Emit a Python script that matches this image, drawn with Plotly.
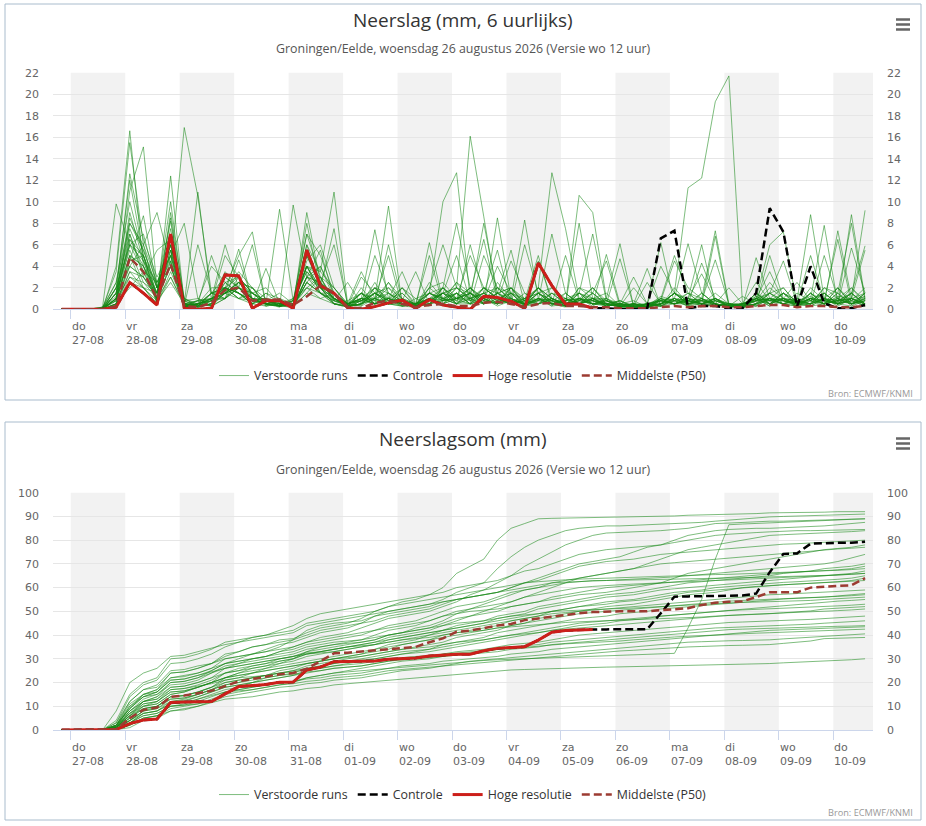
import pandas as pd
import plotly.graph_objects as go

# 6-uurlijkse tijdstappen van de 12 UTC run (lokale tijd), 60 stappen
tijden = pd.date_range('2026-08-26 20:00', periods=60, freq='6h')
dagen = pd.date_range('2026-08-27', periods=15, freq='D')
dag_labels = ['do<br>27-08', 'vr<br>28-08', 'za<br>29-08', 'zo<br>30-08', 'ma<br>31-08',
              'di<br>01-09', 'wo<br>02-09', 'do<br>03-09', 'vr<br>04-09', 'za<br>05-09',
              'zo<br>06-09', 'ma<br>07-09', 'di<br>08-09', 'wo<br>09-09', 'do<br>10-09']

# --- Neerslag per 6 uur (mm) ---
hoge_res_6u = [0, 0, 0, 0, 0.2, 2.5, 1.5, 0.4, 7.0, 0.1,
               0, 0.1, 3.2, 3.1, 0.1, 0.8, 0.8, 0.1, 5.5, 2.2,
               1.5, 0.15, 0, 0.25, 0.6, 0.85, 0.1, 0.9, 0.4, 0.2,
               0, 1.2, 1.1, 0.75, 0.1, 4.3, 2.2, 0.5, 0.5, 0.1]
controle_6u = [0, 0, 0, 0, 0.2, 2.5, 1.5, 0.4, 7.0, 0.1,
               0, 0.1, 3.2, 3.1, 0.1, 0.8, 0.8, 0.1, 5.5, 2.2,
               1.5, 0.15, 0, 0.25, 0.6, 0.85, 0.1, 0.9, 0.4, 0.2,
               0, 1.2, 1.1, 0.75, 0.1, 4.3, 2.2, 0.5, 0.5, 0.1,
               0.1, 0, 0, 0.1, 6.6, 7.3, 0.1, 0.3, 0.3, 0.1,
               0.1, 1.5, 9.4, 7.2, 0.25, 4.0, 0.55, 0.1, 0.1, 0.4]
p50_6u = [0, 0, 0, 0, 0.3, 4.8, 3.5, 1.0, 4.2, 0.3,
          0.2, 0.6, 1.8, 2.0, 0.8, 0.9, 0.9, 0.4, 1.2, 2.2,
          1.5, 0.2, 0.1, 0.6, 0.8, 0.5, 0.2, 0.4, 0.5, 0.3,
          0.3, 0.6, 0.7, 0.5, 0.2, 0.5, 0.6, 0.3, 0.3, 0.2,
          0.2, 0.1, 0.1, 0.1, 0.2, 0.3, 0.2, 0.3, 0.3, 0.2,
          0.2, 0.3, 0.4, 0.4, 0.2, 0.3, 0.3, 0.2, 0.2, 0.3]
runs_6u = [
    [0,0,0,0.2,9.8,6,7,2,4,0.5, 0.3,1,2,1.5,0.8,1,0.5,0.2,3,2, 1,0.3,0.5,1.5,2,1,0.2,1.5,10,12.7,
     1,2,1.5,0.8,0.5,2,1,0.5,1.5,0.8, 0.5,0.3,0.2,0.5,4,1.5,0.8,0.5,1,0.3, 0.2,1,1.5,0.8,0.5,1,0.5,1.2,1,0.5],
    [0,0,0,0,4,16.6,4,1.5,5,0.3, 0.5,1.5,3,2,1,0.5,0.3,0.5,4,3, 2,0.5,1,2,1,0.5,0.3,2,6,2,
     1.5,1,0.5,2,0.3,1,0.8,0.3,1,2, 0.8,0.5,0.3,0.2,1,5,1.5,0.5,0.8,0.3, 0.1,0.5,2,1,0.3,0.8,1.5,0.5,0.3,1.5],
    [0,0,0,0.1,3.5,15.5,6,2.5,6,0.8, 0.2,0.5,2.5,3,1.5,0.8,0.5,0.3,2.5,4, 1.5,0.2,2,0.5,1,0.8,0.5,1,2,8,
     2,0.5,2.5,1,0.5,0.8,2,1,0.5,1, 1.5,0.3,0.5,0.2,0.8,4.5,2,1,0.5,0.2, 0.3,1.5,0.5,1,0.8,1.2,0.5,2,0.8,0.3],
    [0,0,0,0,1.5,12.6,6.5,3,5.5,0.2, 0.5,1,1.5,2.5,2,1,0.3,0.8,5,2.5, 1,0.5,1.5,1,0.5,2,0.3,0.8,1.5,5,
     0.8,2,1,1.5,0.3,1,0.5,0.2,2,1.5, 0.5,0.2,0.1,0.3,0.5,1.5,1,0.8,0.5,0.3, 0.2,0.8,1,0.5,0.3,0.5,1,0.8,1.5,0.5],
    [0,0,0,0.1,2,12,5,1,12.4,0.5, 0.2,0.8,3.5,2,1.5,0.5,0.8,0.3,4,1.5, 0.8,0.3,0.5,2,1.5,0.5,0.2,1,0.8,2,
     16.1,8.6,1,0.5,1,1.5,0.5,0.8,1,0.5, 0.3,0.5,0.2,0.1,0.8,1,6.1,1.5,0.5,0.3, 0.5,0.3,1.5,2,0.5,0.8,0.3,1,0.5,1.2],
    [0,0,0,0,1,11,15.1,2,6,0.3, 0.5,2,2,1.5,0.5,1.5,0.5,1,3.5,2, 1.5,0.2,1,0.5,2.5,1,0.5,1.5,1,0.5,
     6,1.5,2,0.8,0.5,1,0.3,1.5,0.5,1, 0.8,0.2,0.5,0.3,1.2,0.8,1,6,0.5,0.2, 0.3,1,0.5,1.5,0.3,2,0.8,0.5,1,0.3],
    [0,0,0,0.2,2.5,10,5,1.5,7,1, 0.3,1.5,1.5,3.5,2,0.5,1,0.5,6,3.5, 2,0.5,0.8,1.5,1,0.3,0.2,2,2.5,1,
     5,2,1,0.5,0.8,2,1,0.5,0.8,2, 0.5,0.8,0.3,0.2,0.5,1.5,0.5,4.3,1,0.5, 0.2,1.2,0.8,0.5,1,0.5,2,1.5,0.3,0.8],
    [0,0,0,0,1,9,4.5,0.8,8.5,0.2, 0.3,0.8,2,1,1.5,2,0.5,0.3,2.5,1.5, 0.5,0.8,1.5,0.5,1,0.5,0.3,1,1.5,2,
     1,8,1.5,1,0.3,1.5,2,0.3,1,0.5, 1,0.3,0.2,0.5,0.8,0.5,1,3.3,0.8,0.5, 0.3,0.5,1,0.8,0.5,1.5,0.5,1,2,0.5],
    [0,0,0,0,0.5,8.5,5.5,2,4,0.5, 0.8,0.3,1,2.5,1,0.8,1.5,0.5,5,2, 1,0.3,0.5,2.5,0.5,1,0.5,0.3,2,1,
     1.5,6.5,0.8,2,0.5,0.8,1.5,1,0.5,1, 0.3,0.5,0.8,0.2,0.5,1.5,11.3,12.2,19.3,21.7, 0.5,1,0.8,0.5,0.3,1,1.5,0.5,0.8,2],
    [0,0,0,0,1.5,8,6,1,6.5,0.2, 0.5,1,2,1.5,0.8,0.5,0.2,1,2,3, 0.8,0.5,1,1,1.5,0.5,0.3,2.5,1,1.5,
     0.5,5,2,1.5,1,0.5,0.8,1.5,0.5,1, 0.5,0.3,0.5,0.2,1,0.5,1.5,1,7.3,0.5, 0.3,0.8,2.5,1,0.5,0.5,1,0.3,1,1.5],
    [0,0,0,0.1,0.8,7,3.5,2.5,5,1, 0.3,0.5,1.5,2,1,0.3,0.8,0.5,4,1.5, 0.5,0.2,0.8,1.5,0.5,2,1,0.5,0.8,2.5,
     1.5,0.5,8.5,1,0.5,1,0.5,0.8,1.5,0.5, 0.8,0.2,0.3,0.5,0.5,1,0.8,0.5,6.8,0.3, 0.2,1.5,0.5,1,0.8,0.3,0.5,2,0.5,0.8],
    [0,0,0,0,2,7,3,1,5.5,0.3, 0.5,1,1,2,6,0.5,0.3,0.2,3,2.5, 1,0.3,1.5,0.5,1,0.8,0.5,1.5,2,0.5,
     1,1.5,5.5,0.5,0.8,2,1,0.3,0.5,1.5, 0.3,0.5,0.2,0.1,0.3,2,0.5,0.8,4.6,0.5, 0.5,0.3,1,2,0.5,1,0.8,0.5,1.5,0.3],
    [0,0,0,0,1,6.5,4,1.5,7,0.5, 0.2,0.5,2.5,1.5,0.5,3.8,0.5,0.3,2,1, 1.5,0.5,0.3,2,0.8,0.5,0.2,0.8,1.5,1,
     2,0.8,4,1.5,0.3,0.5,1.5,0.5,1,0.8, 0.5,0.2,0.5,0.3,1,0.8,0.3,1.5,0.5,2, 0.5,1,0.3,1.5,0.8,0.5,2,1,0.5,1],
    [0,0,0,0.1,0.5,6,5,0.5,4.5,0.8, 1,0.3,1,3,1.5,0.5,9.3,0.8,5.5,2, 0.5,0.3,1.5,0.8,2,0.5,0.5,1,0.5,2,
     0.8,1,1.5,5.5,0.5,1.5,0.8,0.3,2,1, 0.3,0.5,0.2,0.5,0.8,0.5,1,0.5,1,0.3, 1.2,0.5,1,0.8,0.3,1.5,0.5,0.8,1,0.5],
    [0,0,0,0,1.5,5.5,2.5,1,3,0.3, 0.5,1.5,2,1,0.8,1,0.3,9.7,3,4, 1,0.2,0.5,1.5,0.8,0.3,0.5,2,1,0.5,
     1.5,0.5,0.8,4.5,1.5,0.5,1,0.5,0.8,1.5, 0.5,0.3,0.1,0.2,0.5,1.5,0.8,0.5,0.3,0.5, 0.3,4.8,1,0.5,1,0.8,0.5,1.5,0.5,1],
    [0,0,0,0,0.3,4.5,8.7,2,6,0.5, 0.2,0.5,3,2,1,0.5,0.5,0.3,9,2.5, 1.5,0.5,0.3,1,0.5,1.5,0.3,0.5,1.5,1,
     0.8,1.5,0.5,1,8.3,1,0.5,0.8,1,0.3, 1,0.2,0.5,0.2,0.5,0.8,1.5,0.5,0.8,0.3, 0.5,2.5,0.8,1,0.5,0.3,1,0.5,2,0.8],
    [0,0,0,0,2,4,6,9,4,0.3, 0.8,1,1.5,2.5,2,0.3,0.5,0.5,4.5,6, 2,0.3,1,0.5,1.5,0.8,0.2,1,0.5,1.5,
     0.5,2,1,0.5,6,1.5,0.8,0.5,0.8,2, 0.5,0.5,0.3,0.2,1,0.5,0.8,1,0.5,0.3, 0.5,1,6,7.2,0.5,1.5,0.8,0.5,1,0.5],
    [0,0,0,0,0.5,3.5,3,5.5,6.5,0.2, 0.5,0.8,2,1.5,0.5,1.5,1,0.2,3,5.5, 1,0.5,0.8,2,0.5,0.3,0.5,0.8,1.5,0.5,
     2,0.5,1.5,2,0.8,5,0.5,1,0.5,0.8, 0.3,0.8,0.2,0.5,0.3,1,0.5,0.8,0.3,0.5, 0.2,0.5,5,1,0.8,0.5,1,2,0.5,0.8],
    [0,0,0,0.1,1,3,2.5,1.5,10,0.5, 0.3,1.5,1,2,1,0.5,0.3,0.5,7,5, 1.5,0.2,0.5,1,2.5,0.5,0.5,1.5,0.8,1,
     1.5,0.5,2,0.8,0.5,4.5,1,0.3,1.5,0.5, 0.5,0.3,0.5,0.3,0.8,0.5,0.5,1.5,0.5,0.2, 0.5,1,3.5,0.8,0.3,1,0.5,0.8,1.5,0.5],
    [0,0,0,0,0.8,5,4,0.5,9,1, 0.5,0.3,2,3,1.5,0.8,0.5,0.3,4,3.5, 10.9,0.5,1,0.5,1,1.5,0.3,0.8,2,0.5,
     1,1.5,0.8,1,0.5,2,12.7,7.5,1,0.5, 0.8,0.3,0.2,0.5,0.5,1.5,0.5,1,0.3,0.5, 0.3,0.8,1.5,4.5,0.5,1,0.5,0.8,1,0.5],
    [0,0,0,0,1.2,4.5,5,2,8.2,0.3, 0.5,1,1.5,2,1,0.5,0.8,0.3,6,2, 7.5,0.3,0.5,1.5,0.8,0.5,0.5,1.5,1,2.5,
     0.8,0.5,1.5,2,1,0.8,7,1.5,0.5,1, 0.5,0.2,0.3,0.5,1,0.5,0.8,0.5,1.5,0.5, 0.2,1,0.8,1,2.5,0.8,1.5,0.5,0.8,1.2],
    [0,0,0,0,0.5,2,3.5,1,4,16.9, 10.5,1.5,2,1,0.5,1,0.3,0.5,3,2.5, 6,0.5,0.8,0.5,1,2,0.5,1,0.5,1,
     1.5,0.8,0.5,1.5,0.3,1,0.5,5,0.8,0.5, 0.5,0.3,0.5,0.2,0.5,1.5,0.5,0.8,0.5,0.3, 0.5,0.8,1,0.5,0.8,8.8,1,0.5,1.5,0.5],
    [0,0,0,0.1,1.5,6,4.5,2.5,5,8, 1,0.5,1.5,2.5,1,0.5,0.8,0.2,2.5,1.5, 0.8,2.5,0.5,1,0.5,0.8,0.3,0.5,1.5,0.8,
     2,1,0.5,0.8,0.5,1.5,0.8,0.5,10.6,9, 1,0.5,0.3,0.2,0.8,0.5,1,0.5,0.8,0.3, 0.3,1.5,0.5,1,0.5,5,0.8,1,0.5,1.5],
    [0,0,0,0,0.3,3,2,0.5,3.5,0.5, 10.9,0.8,1.5,1,2,0.5,0.3,0.8,3.5,2, 1,0.5,3.5,1,0.5,0.3,1,1.5,0.8,1.5,
     0.5,2,1,0.5,1.5,0.8,1,0.5,8,1, 0.5,0.8,0.2,0.5,0.3,1,0.5,0.8,1,0.5, 0.2,0.5,1.5,0.8,0.5,1,7.8,0.5,0.8,0.3],
    [0,0,0,0,1,4,3,1.5,7.5,0.3, 6,1.5,2,1.5,0.8,0.5,0.5,0.3,1.5,3, 0.5,0.3,3,1.5,0.8,0.5,0.3,0.5,2,1,
     1,1.5,0.5,1,0.5,2,0.5,1,1.5,7, 0.8,0.5,0.5,0.3,0.5,0.8,0.3,1,0.5,0.2, 0.5,1.2,0.5,1.5,0.8,0.5,5,1,0.5,0.8],
    [0,0,0,0.2,0.8,5,4,1,5,0.2, 0.5,5,1.5,2,1,0.8,0.3,0.5,2,1.5, 1.5,0.5,1,7.4,1,0.5,0.5,0.8,1.5,2,
     1,0.5,1.5,0.8,1,1.5,0.5,0.3,1,0.5, 5.1,0.5,0.3,0.2,0.5,1,0.5,0.5,1,0.3, 0.5,0.8,1,0.5,1.5,0.8,0.5,7.3,1,0.5],
    [0,0,0,0,0.5,2.5,2,0.5,3,0.5, 0.8,4,2.5,1.5,0.5,0.3,0.5,0.8,4,2, 0.5,0.3,0.5,5,1.5,0.8,0.3,0.5,0.8,1,
     2,1,0.5,1.5,0.8,0.5,1,0.5,0.5,1.5, 4.5,0.3,0.5,0.5,0.3,0.8,1,0.5,0.3,0.5, 0.5,1,0.5,1.5,0.5,1,0.8,6.5,0.5,1],
    [0,0,0,0,1,6.5,5,1,7,0.8, 0.3,1,6,2,1.5,0.5,0.8,0.3,3,1.5, 1,0.2,0.8,1,9.6,0.5,0.2,1.5,1,0.5,
     1.5,0.8,0.5,2,0.5,1,0.8,0.3,1.5,1, 1,6.1,0.3,0.5,0.8,0.5,1,0.5,0.5,0.3, 0.5,0.3,1,0.5,0.8,0.5,1.5,0.5,8.8,1],
    [0,0,0,0.1,2.5,8,5.5,2,4.5,0.3, 0.5,0.8,5,3,1,1,0.3,0.5,5,2.5, 1,0.5,1,0.5,6,0.8,0.5,0.8,1,1.5,
     0.5,1,2,1,0.5,1.5,0.5,0.8,1,0.5, 0.5,4.7,0.3,0.2,0.5,1.5,0.5,1,0.3,0.5, 0.3,1.5,0.8,1,0.3,1,0.5,1.5,8,0.8],
    [0,0,0,0,0.3,3.5,2,0.8,2.5,0.5, 0.3,0.5,1.5,5.6,0.8,0.5,0.3,0.2,1.5,1, 0.5,0.3,0.5,1,5,0.3,0.5,0.5,1,0.8,
     0.5,1,0.3,0.8,0.5,1,0.3,0.5,0.8,1, 0.3,0.5,3,0.5,0.3,0.5,0.8,0.5,1,0.3, 0.2,0.5,1,0.8,0.5,0.3,1,0.5,5.7,1.5],
    [0,0,0,0,1.5,7.5,4.5,1.5,6,0.3, 0.8,1,2,5,7.2,0.5,0.3,0.5,4,2, 1.5,0.5,1,0.8,1,3.5,0.5,1,0.5,1.5,
     1,0.5,1,0.5,0.8,0.5,1.5,0.5,1,0.5, 0.8,0.3,2,0.5,0.8,0.5,1,0.8,0.5,0.3, 0.5,0.8,0.5,1,0.3,1.5,0.5,0.8,1,9.2],
    [0,0,0,0,0.5,4,3,1,4,0.5, 0.5,0.8,1,4.6,1,0.5,0.8,0.3,2.5,1.5, 0.8,0.3,1.5,0.5,0.5,0.8,3.5,0.5,1.5,0.5,
     0.5,1.5,0.8,0.5,0.3,0.8,0.5,1,0.5,0.8, 0.5,0.3,0.5,3.8,0.3,0.8,0.5,0.5,0.8,0.5, 0.3,0.5,1.5,0.5,0.8,0.5,1,0.5,1.5,5.9],
    [0,0,0,0.1,2,6,3.5,0.8,5.5,0.3, 0.3,1.5,1,2,0.5,1,0.5,0.5,8,2, 0.5,0.2,0.8,1.5,0.5,0.5,0.3,6.2,0.8,1,
     1.5,0.5,1,1.5,0.5,0.5,1,0.5,0.8,0.5, 0.5,0.5,0.3,2.5,0.5,1,0.3,0.5,1,0.3, 0.5,1,0.3,0.8,0.5,1,0.8,0.5,1,5.5],
    [0,0,0,0,1,5,2,1.5,6.5,0.5, 0.5,0.3,1.5,2.5,1.5,0.8,0.3,0.8,7,3, 0.8,0.5,1.5,0.5,1,0.5,0.5,5,0.5,1,
     0.5,0.8,1.5,0.5,1,2,0.5,0.3,1,0.8, 0.3,0.5,0.3,0.5,6.2,0.5,0.8,0.3,0.5,0.3, 0.3,0.5,0.8,1.5,0.5,0.5,1,0.8,0.5,1.5],
]

# --- Neerslagsom (mm) ---
hoge_res_som = [0, 0, 0, 0, 0.2, 2.7, 4.2, 4.6, 11.6, 11.8,
                11.9, 12, 15.2, 18.3, 18.7, 19.2, 20.1, 20.2, 25.3, 26.5,
                28.8, 28.8, 28.8, 29.1, 29.8, 30.2, 30.3, 31.2, 31.7, 31.9,
                31.9, 33.4, 34.4, 34.8, 35.1, 37.9, 41.2, 41.9, 42.3, 42.4]
controle_som = [0, 0, 0, 0, 0.2, 2.7, 4.2, 4.6, 11.6, 11.8,
                11.9, 12, 15.2, 18.3, 18.7, 19.2, 20.1, 20.2, 25.3, 26.5,
                28.8, 28.8, 28.8, 29.1, 29.8, 30.2, 30.3, 31.2, 31.7, 31.9,
                31.9, 33.4, 34.4, 34.8, 35.1, 37.9, 41.2, 41.9, 42.3, 42.4,
                42.4, 42.4, 42.4, 42.5, 49.2, 56.2, 56.3, 56.4, 56.5, 56.6,
                56.7, 57.5, 66.5, 74.2, 74.4, 78.5, 78.8, 78.9, 78.9, 79.3]
p50_som = [0, 0, 0, 0, 0.3, 5, 8.5, 9.5, 14, 14.5,
           15.5, 16.5, 18.5, 20.5, 21.5, 22.5, 23.5, 24, 25.8, 29,
           32.3, 32.6, 33, 33.5, 34, 34.5, 35, 37, 38.6, 41.4,
           41.9, 43, 44, 44.7, 46.3, 47, 47.8, 48.5, 49.2, 49.7,
           50, 50, 50, 50, 50.5, 50.8, 51.3, 52.7, 53.6, 54,
           54.2, 56, 58, 58, 58, 60, 60.5, 60.7, 61, 64]
runs_som = [
    [0,0,0,0,2,12,17,19,25,25.5, 27,28,32,33,35,36,38,38.5,41,43, 44,45,47,50,52,54,55,57,60,66,
     69,72,80,85,87,89,89.2,89.3,89.4,89.5, 89.5,89.6,89.8,90,90,90.2,90.5,90.6,90.8,91, 91,91.2,91.5,91.5,91.6,91.8,91.8,92,92,92],
    [0,0,0,0,1,10,14,16,22,23, 24,26,30,31,32,34,36,37,39,41, 42,43,45,48,50,51,52,53,55,58,
     60,62,68,73,77,80,82,84,85,85.5, 86,86,86.2,86.5,86.8,87,87.2,87.5,88,88.5, 89,89.5,89.8,90,90.2,90.4,90.6,90.8,91,91],
    [0,0,0,0,0.5,8,12,14,18,18.5, 20,22,26,28,30,31,33,35,37,39, 40,41,43,45,47,48,49,50,52,54,
     57,59,62,65,69,72,75,78,80,82, 83,83.2,83.5,83.8,84,84.5,85,86,87,87.2, 87.5,87.8,88,88,88.2,88.5,88.6,88.8,89,89],
    [0,0,0,0,1.5,6,12,14,20,20.5, 22,25,28,30,32,33,35,38,42,44, 45,45.5,46,48,49,50,51,52,54,55,
     56,57,58,60,62,64,66,68,70,71, 72,73,75,77,78,80,82,83,84,84.5, 84.8,85,85,85.2,85.5,85.8,86,86.5,87,87.5],
    [0,0,0,0,3,14,19,21,28,28.5, 30,32,35,37,39,40,42,44,47,49, 50,51,52,53,54,55,56,57,58,60,
     61,62,63,65,67,68,70,72,74,75, 76,76.5,77,77.5,78,79,80,81,82,82.5, 83,83.2,83.5,83.8,84,84,84.2,84.3,84.4,84.5],
    [0,0,0,0,0.5,4,8,10,14,14.5, 16,18,22,24,25,26,28,30,33,34, 35,36,37,38,40,41,43,44,46,49,
     51,53,55,57,59,60,62,63,64,65, 66,67,68,70,72,74,76,77,78,79, 80,81,82,82.3,82.5,82.8,83,83.3,83.6,84],
    [0,0,0,0,2,9,15,17,24,24.5, 26,28,31,33,35,36,37,38,40,42, 43,44,45,46,48,49,50,51,53,55,
     56,57,58,60,62,63,65,67,69,70, 71,71.5,72,73,74,74.5,75,75.5,76,76.5, 77,77.5,78,78.3,78.5,78.8,79,79.3,79.6,80],
    [0,0,0,0,1,7,10,11,15,16, 18,20,24,26,27,28,30,31,33,35, 36,37,38,40,42,43,44,46,48,49,
     50,50.5,51,52,53,54,55,56,57,57.5, 58,59,60,61,62,64,66,67,68,69, 70,71,72,73,74,75,76,76.5,77,78],
    [0,0,0,0,0.3,3,6,7,10,10.5, 11,12,16,17,18,19,20,20.5,22,23, 24,24.5,25,25.5,26,26.5,27,27.5,28,28.5,
     29,29.3,29.6,29.8,30,30.2,30.4,30.6,30.8,31, 31,31.2,31.5,31.8,32,32.3,43,55,72,86.5, 86.8,87,87.3,87.5,87.8,88,88.3,88.5,88.8,89],
    [0,0,0,0,1,5,10,12,17,17.5, 19,21,24,25,26,27,29,30,32,33, 34,35,36,37,39,40,41,42,44,46,
     48,50,52,54,56,58,60,62,64,65, 66,67,68,69,70,70.5,71,71.5,72,72.5, 73,73.5,74,74.5,75,75.5,76,76.3,76.6,77],
    [0,0,0,0,2,11,15,16,21,21.5, 23,25,28,29,30,31,33,34,36,37, 38,39,40,42,44,45,46,48,50,52,
     53,54,56,58,59,60,61,62,62.5,63, 63,63.3,63.5,63.8,64,64.5,65,65.5,66,66.5, 67,67.5,68,68.5,69,69.5,70,71,72.5,74],
    [0,0,0,0,1,6,11,12,16,16.5, 18,20,22,24,26,27,28,29,31,32, 33,34,35,36,38,39,40,41,42,44,
     45,46,48,49,50,52,53,54,55,56, 57,57.5,58,59,60,61,62,62.5,63,63.5, 64,64.5,65,66,66.5,67,68,68.5,69,70],
    [0,0,0,0,1.5,8,13,15,19,19.5, 21,24,27,28,29,30,31,32,34,35, 36,36.5,37,38,40,41,42,43,45,47,
     48,49,50,52,53,54,56,57,58,59, 60,60.5,61,61.5,62,62.5,63,63.5,64,64.5, 65,65.5,66,66.2,66.5,66.8,67,67.5,68,69],
    [0,0,0,0,0.5,3,7,8,12,13, 15,17,20,21,22,23,25,26,28,29, 30,31,32,34,36,37,38,40,42,43,
     44,45,47,48,49,51,52,53,54,55, 56,56.5,57,58,59,59.5,60,60.5,61,61.5, 62,62.5,63,63.5,64,64.5,65,65.5,66,67],
    [0,0,0,0,3,12,17,18,24,24.5, 26,28,30,31,32,33,34,35,37,38, 39,40,41,42,43,44,45,46,48,50,
     51,52,53,54,56,57,58,59,60,60.5, 61,61.2,61.5,61.8,62,62.2,62.5,62.8,63,63.2, 63.5,63.8,64,64.2,64.5,64.8,65,65.3,65.6,66],
    [0,0,0,0,1,5,9,10,14,14.5, 16,18,21,22,24,25,26,27,28,29, 30,31,32,33,34,36,37,38,40,41,
     42,43,44,46,47,48,50,51,52,53, 54,54.5,55,56,57,58,58.5,59,60,60.5, 61,61.5,62,62.2,62.5,62.8,63,63.5,64,65],
    [0,0,0,0,1,7,12,13,18,18.5, 20,22,24,25,27,28,29,30,32,33, 34,35,36,37,38,39,40,41,42,43,
     44,45,46,47,48,49,50,51,52,52.5, 53,54,54.5,55,56,57,58,58.5,59,59.5, 60,60.5,61,61.2,61.5,61.8,62,62.5,63,64],
    [0,0,0,0,0.5,4,8,9,13,13.5, 15,17,19,20,22,23,24,25,27,28, 29,30,31,32,33,34,35,36,37,39,
     40,41,42,44,45,47,48,49,50,51, 52,52.5,53,54,55,56,57,57.5,58,59, 60,60.5,61,61.2,61.5,61.8,62,62.3,62.6,63],
    [0,0,0,0,2,9,14,15,20,20.5, 22,24,26,27,28,29,30,31,32,32.5, 33,34,35,36,37,38,39,40,41,42,
     43,44,45,46,47,48,49,49.5,50,50.5, 51,51.5,52,52.5,53,53.5,54,54.5,55,55.5, 56,56.5,57,57.2,57.5,57.7,58,58.3,58.6,59],
    [0,0,0,0,0.3,2,5,6,10,11, 13,15,17,18,20,21,22,23,25,26, 27,28,29,30,31,32,33,34,36,37,
     38,39,41,42,43,44,45,46,47,47.5, 48,49,49.5,50,51,51.5,52,52.5,53,53.5, 54,54.5,55,55.2,55.5,55.7,56,56.5,57,57.5],
    [0,0,0,0,1,6,10,11,15,16, 18,20,22,23,24,26,27,28,29,30, 31,32,33,34,35,36,37,38,39,40,
     41,42,43,44,45,46,47,48,49,49.5, 50,50.5,51,51.5,52,52.5,53,53.5,54,54.3, 54.6,54.8,55,55.2,55.4,55.6,56,56.3,56.6,57],
    [0,0,0,0,2,10,15,17,22,22.5, 24,26,28,29,30,31,32,33,35,36, 37,37.5,38,39,40,41,42,43,44,45,
     45.5,46,47,48,48.5,49,50,50.3,50.6,50.8, 51,51.2,51.4,51.7,52,52.3,52.6,53,53.5,53.7, 53.8,53.9,54,54.2,54.4,54.6,55,55.3,55.6,56],
    [0,0,0,0,0.5,3,7,8,11,12, 14,16,18,19,20,22,23,24,26,27, 28,29,30,31,32,33,33.5,34,35,36,
     37,38,39,40,41,42,43,44,45,45.5, 46,46.5,47,47.5,48,48.5,49,49.5,50,50.5, 51,51.5,52,52.5,53,53.5,54,54.3,54.6,55],
    [0,0,0,0,1,5,9,10,14,14.5, 16,18,20,21,22,23,24,25,26,27, 28,29,29.5,30,31,32,32.5,33,34,35,
     36,37,38,39,40,41,42,43,44,44.5, 45,46,46.5,47,48,48.5,49,49.3,50,50.3, 50.6,50.8,51,51.2,51.4,51.6,52,52.3,52.6,53],
    [0,0,0,0,1.5,7,11,12,16,16.5, 18,20,22,23,24,25,26,27,28,29, 30,30.5,31,32,33,34,34.5,35,36,37,
     37.5,38,39,40,40.5,41,42,42.5,43,43.5, 44,44.5,45,45.5,46,46.5,47,47.3,48,48.3, 48.6,48.8,49,49.2,49.4,49.6,50,50.3,50.6,51],
    [0,0,0,0,0.5,4,8,9,12,12.5, 14,16,18,19,20,21,22,23,24,25, 26,26.5,27,28,29,30,30.5,31,32,33,
     33.5,34,35,36,36.5,37,38,39,40,40.5, 41,41.5,42,42.5,43,43.5,44,44.3,45,45.3, 45.5,45.8,46,46.2,46.4,46.6,47,47.3,47.6,48],
    [0,0,0,0,0.2,2,5,6,9,10, 11,13,15,16,17,18,19,20,22,23, 24,25,26,27,28,29,29.5,30,31,32,
     32.5,33,34,35,35.5,36,37,37.5,38,38.5, 39,39.5,40,40.5,41,41.5,42,42.3,43,43.2, 43.4,43.7,44,44.2,44.4,44.6,45,45.3,45.6,46],
    [0,0,0,0,1,6,9,10,13,13.5, 15,17,19,20,21,22,23,23.5,24.5,25, 26,26.5,27,28,29,29.5,30,30.5,31,31.5,
     32,32.5,33,34,34.5,35,36,36.5,37,37.5, 38,38.5,39,39.5,40,40.5,41,41.3,42,42.3, 42.5,42.7,43,43.1,43.2,43.3,43.5,43.7,43.8,44],
    [0,0,0,0,0.5,3,6,7,10,10.5, 12,14,16,17,18,19,20,20.5,21.5,22, 23,23.5,24,25,26,27,27.5,28,29,29.5,
     30,30.5,31,32,32.5,33,34,34.5,35,35.5, 36,36.5,37,37.5,38,38.5,39,39.5,40,40.5, 41,41.5,42,42.2,42.4,42.6,43,43.2,43.3,43.5],
    [0,0,0,0,1.5,8,12,13,17,17.5, 18.5,19.5,21,22,22.5,23,24,24.5,25.5,26, 27,27.5,28,29,30,30.5,31,31.5,32,32.5,
     33,33.5,34,34.5,35,35.5,36,36.3,36.6,36.8, 37,37.5,38,38.5,39,39.2,39.5,39.8,40,40.3, 40.5,40.8,41,41.2,41.4,41.6,42,42.2,42.3,42.5],
    [0,0,0,0,0.2,1,4,5,8,9, 10,12,14,15,16,17,18,18.5,19.5,20, 21,21.5,22,23,24,25,25.5,26,27,28,
     29,29.5,30,30.5,31,31.5,32,32.5,33,33.5, 34,34.5,35,35.5,36,36.5,37,37.2,37.5,37.6, 37.7,37.8,38,38.4,38.8,39.2,39.5,39.8,40.2,40.5],
    [0,0,0,0,0.5,4,7,8,11,11.5, 13,14.5,16,16.5,17,18,19,19.5,20.5,21, 22,22.5,23,24,25,25.5,26,26.5,27,27.5,
     28,28.5,29,29.5,30,30.5,31,31.5,32,32.5, 33,33.3,33.6,34,34.5,34.7,35,35.2,35.5,35.6, 35.7,35.8,36,36.5,37,37.5,38.5,38.7,38.8,39],
    [0,0,0,0,0.2,2,5,6,8,8.5, 10,11.5,13,13.5,14,15,16,16.5,17.5,18, 19,19.5,20,20.5,21,21.5,22,22.5,23,23.5,
     24,24.5,25,25.3,25.5,25.7,26,26.1,26.2,26.4, 26.5,26.6,26.7,26.8,27,27.1,27.2,27.3,27.5,27.6, 27.7,27.8,28,28.3,28.5,28.8,29,29.3,29.6,30],
    [0,0,0,0,4,15,20,22,30,30.5, 32,34,37,38,39,40,41,42,45,46, 47,48,49,50,52,53,54,55,56,57,
     58,59,60,61,62,62.5,63,63.3,63.6,63.8, 64,64.2,64.4,64.7,65,65.1,65.2,65.3,65.5,65.6, 65.8,65.9,66,66.2,66.4,66.7,67,67.3,67.6,68],
    [0,0,0,0,8,20,24,26,31,31.5, 33,34.5,36,37,38,39,40,41,44,45, 46,47,48,49,50,51,52,53,54,55,
     56,57,58,59,60,61,62,62.3,62.6,62.8, 63,63.1,63.2,63.3,63.5,63.6,63.7,63.8,64,64.1, 64.2,64.3,64.5,64.6,64.7,64.8,65,65.3,65.6,66],
    [0,0,0,0,2,9,14,16,21,21.5, 23,24.5,26,27,28,29,30,31,32.5,33, 34,35,35.5,36,37,38,38.5,39,40,41,
     41.5,42,43,43.5,44,44.5,45,45.3,45.6,45.8, 46,46.2,46.4,46.7,47,47.2,47.4,47.6,48,48.2, 48.4,48.7,49,49.4,49.8,50.2,51,51.3,51.6,52],
]

W, H = 926, 826
X_RANGE = ['2026-08-26 16:10', '2026-09-10 17:30']
TEKST_FONT = "'Open Sans', 'Noto Sans', sans-serif"
AS_FONT = dict(family='DejaVu Sans, Verdana, sans-serif', size=11, color='#666666')

GROEN = 'rgba(20,135,20,0.55)'
ROOD = '#cc1f1a'
BRUIN = '#9c3b32'


def px(x):
    return x / W


def py(y):
    return 1 - y / H


fig = go.Figure()

panelen = [
    dict(xa='x', ya='y', yr='y3', leg='legend', runs=runs_6u, ctrl=controle_6u,
         hr=hoge_res_6u, p50=p50_6u),
    dict(xa='x2', ya='y2', yr='y4', leg='legend2', runs=runs_som, ctrl=controle_som,
         hr=hoge_res_som, p50=p50_som),
]

for p in panelen:
    for k, run in enumerate(p['runs']):
        fig.add_trace(go.Scatter(
            x=tijden[:len(run)], y=run, mode='lines', xaxis=p['xa'], yaxis=p['ya'],
            line=dict(color=GROEN, width=1), name='Verstoorde runs',
            legendgroup='runs' + p['xa'], showlegend=(k == 0), legend=p['leg']))
    fig.add_trace(go.Scatter(
        x=tijden[:len(p['ctrl'])], y=p['ctrl'], mode='lines', xaxis=p['xa'], yaxis=p['ya'],
        line=dict(color='#000000', width=2.5, dash='8px,4px'), name='Controle', legend=p['leg']))
    fig.add_trace(go.Scatter(
        x=tijden[:len(p['hr'])], y=p['hr'], mode='lines', xaxis=p['xa'], yaxis=p['ya'],
        line=dict(color=ROOD, width=3), name='Hoge resolutie', legend=p['leg']))
    fig.add_trace(go.Scatter(
        x=tijden[:len(p['p50'])], y=p['p50'], mode='lines', xaxis=p['xa'], yaxis=p['ya'],
        line=dict(color=BRUIN, width=2.5, dash='8px,4px'), name='Middelste (P50)', legend=p['leg']))
    # onzichtbaar punt zodat de rechter as getekend wordt
    fig.add_trace(go.Scatter(
        x=[tijden[0]], y=[0], mode='markers', xaxis=p['xa'], yaxis=p['yr'],
        marker=dict(opacity=0), showlegend=False, hoverinfo='skip'))

# posities van de twee kaders (pixels)
kaders = [
    dict(top=4, bottom=400, plot_bottom=309.3, titel='Neerslag (mm, 6 uurlijks)',
         titel_y=20, sub_y=49, leg_y=376, bron_y=393, xa='x', ya='y'),
    dict(top=422, bottom=820, plot_bottom=730, titel='Neerslagsom (mm)',
         titel_y=439, sub_y=469, leg_y=795, bron_y=812, xa='x2', ya='y2'),
]
subtitel = 'Groningen/Eelde, woensdag 26 augustus 2026 (Versie wo 12 uur)'

shapes = []
annotations = []
for kd in kaders:
    shapes.append(dict(type='rect', xref='paper', yref='paper', x0=px(5), x1=px(921),
                       y0=py(kd['bottom']), y1=py(kd['top']),
                       line=dict(color='#a9bccd', width=1), layer='below'))
    # menu-icoon
    for dy in (-5, 0, 5):
        yy = kd['titel_y'] + 4.5 + dy
        shapes.append(dict(type='line', xref='paper', yref='paper', x0=px(896), x1=px(910),
                           y0=py(yy), y1=py(yy), line=dict(color='#666666', width=2.5)))
    # grijze banden om de dag
    for i in range(0, len(dagen), 2):
        x1 = dagen[i] + pd.Timedelta(days=1)
        if x1 > pd.Timestamp(X_RANGE[1]):
            x1 = pd.Timestamp(X_RANGE[1])
        shapes.append(dict(type='rect', xref=kd['xa'], yref=kd['ya'] + ' domain',
                           x0=dagen[i], x1=x1, y0=0, y1=1, fillcolor='#f2f2f2',
                           line=dict(width=0), layer='below'))
    # daglabels, links uitgelijnd naast de tick
    for d, lab in zip(dagen, dag_labels):
        annotations.append(dict(x=d, y=py(kd['plot_bottom'] + 8.5), xref=kd['xa'], yref='paper',
                                text=lab, showarrow=False, xanchor='left', yanchor='top',
                                align='left', font=AS_FONT, xshift=-1))
    annotations.append(dict(x=0.5, y=py(kd['titel_y']), xref='paper', yref='paper',
                            text=kd['titel'], showarrow=False, xanchor='center', yanchor='middle',
                            font=dict(family=TEKST_FONT, size=19, color='#333333')))
    annotations.append(dict(x=0.5, y=py(kd['sub_y']), xref='paper', yref='paper',
                            text=subtitel, showarrow=False, xanchor='center', yanchor='middle',
                            font=dict(family=TEKST_FONT, size=12.4, color='#555555')))
    annotations.append(dict(x=px(915), y=py(kd['bron_y']), xref='paper', yref='paper',
                            text='Bron: ECMWF/KNMI', showarrow=False, xanchor='right',
                            yanchor='middle', font=dict(family=TEKST_FONT, size=9.2, color='#999999')))

x_dom = [px(53), px(873)]
xas = dict(type='date', range=X_RANGE, showgrid=False, tickvals=list(dagen), ticks='outside',
           ticklen=9, tickcolor='#ccd6eb', showticklabels=False, showline=True,
           linecolor='#ccd6eb', zeroline=False, fixedrange=True)
yas = dict(showgrid=True, gridcolor='#e6e6e6', zeroline=False, showline=False, ticks='',
           tickfont=AS_FONT, ticklabelstandoff=13, fixedrange=True)

legend_stijl = dict(orientation='h', xanchor='center', x=0.5, yanchor='middle',
                    font=dict(family=TEKST_FONT, size=12.4, color='#333333'),
                    bgcolor='rgba(0,0,0,0)', traceorder='normal', itemwidth=30)

fig.update_layout(
    width=W, height=H, margin=dict(l=0, r=0, t=0, b=0, autoexpand=False),
    paper_bgcolor='white', plot_bgcolor='white',
    xaxis=dict(xas, domain=x_dom, anchor='y'),
    yaxis=dict(yas, domain=[py(309.3), py(72.7)], range=[0, 22], dtick=2, anchor='x'),
    yaxis3=dict(yas, range=[0, 22], dtick=2, overlaying='y', side='right', anchor='x',
                showgrid=False),
    xaxis2=dict(xas, domain=x_dom, anchor='y2'),
    yaxis2=dict(yas, domain=[py(730), py(492.7)], range=[0, 100], dtick=10, anchor='x2'),
    yaxis4=dict(yas, range=[0, 100], dtick=10, overlaying='y2', side='right', anchor='x2',
                showgrid=False),
    legend=dict(legend_stijl, y=py(kaders[0]['leg_y'])),
    legend2=dict(legend_stijl, y=py(kaders[1]['leg_y'])),
    shapes=shapes, annotations=annotations,
    hovermode='closest',
)

# pagina zonder standaardmarge, zodat de figuur precies in het venster valt
fig.write_html("out.html", config={'displayModeBar': False},
               post_script="document.body.style.margin='0';document.body.style.overflow='hidden';")
